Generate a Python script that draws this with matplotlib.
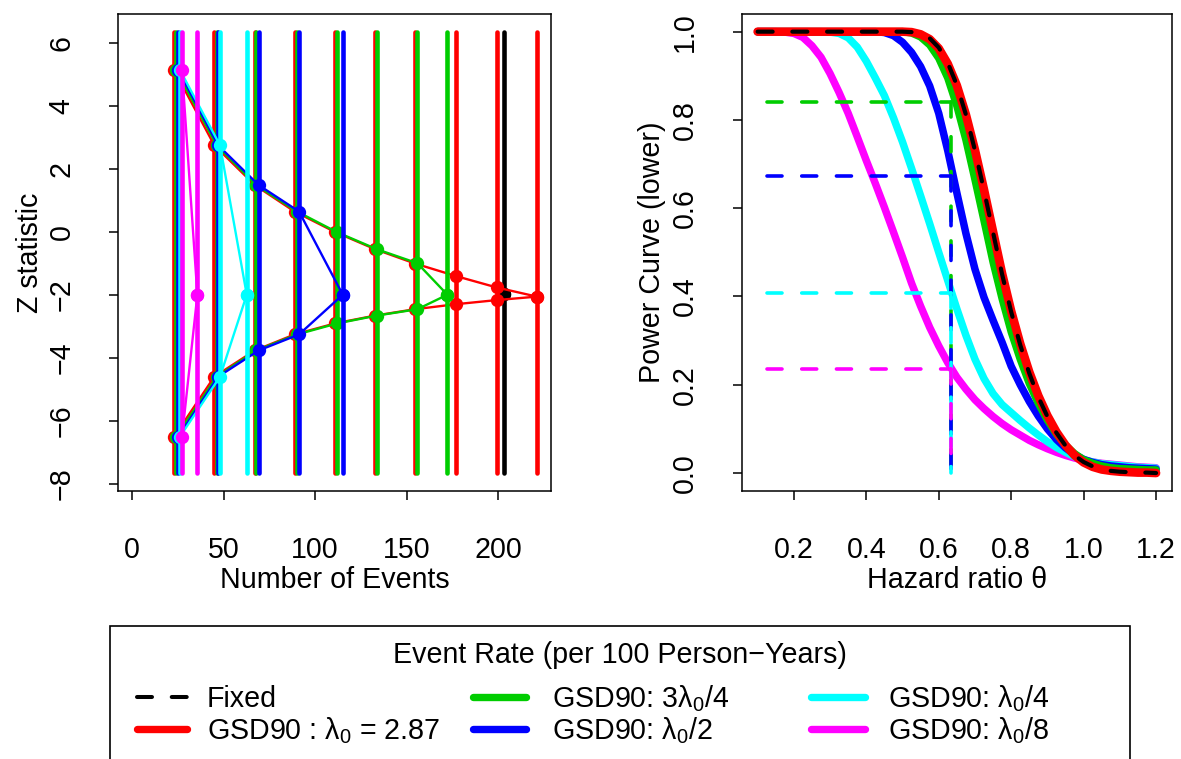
import matplotlib
matplotlib.use("Agg")
import matplotlib.pyplot as plt
from matplotlib.lines import Line2D
from matplotlib.patches import Rectangle

plt.rcParams['font.family'] = ['Liberation Sans', 'DejaVu Sans']
plt.rcParams['mathtext.fontset'] = 'custom'
plt.rcParams['mathtext.rm'] = 'Liberation Sans'
plt.rcParams['mathtext.it'] = 'Liberation Sans:italic'
plt.rcParams['lines.scale_dashes'] = False

# ---------------- data: left panel (boundaries) ----------------
fixed_events = [203.0]
fixed_z = [-1.96]

red_events = [22.8, 44.9, 67.0, 88.8, 110.9, 133.0, 154.6, 177.1, 199.3, 221.2]
red_upper = [5.15, 2.75, 1.49, 0.65, 0.00, -0.55, -1.00, -1.40, -1.76, -2.05]
red_lower = [-6.50, -4.59, -3.76, -3.25, -2.90, -2.65, -2.45, -2.29, -2.16, -2.05]

green_events = [23.9, 46.2, 67.7, 90.1, 112.1, 133.9, 155.9, 172.3]
green_upper = [5.15, 2.75, 1.49, 0.65, -0.01, -0.55, -0.99, -1.99]
green_lower = [-6.50, -4.59, -3.76, -3.25, -2.90, -2.65, -2.45, -1.99]

blue_events = [25.1, 47.0, 69.1, 91.2, 115.1]
blue_upper = [5.15, 2.75, 1.49, 0.65, -1.99]
blue_lower = [-6.50, -4.59, -3.76, -3.25, -1.99]

cyan_events = [26.0, 48.0, 62.6]
cyan_upper = [5.15, 2.75, -1.99]
cyan_lower = [-6.50, -4.59, -1.99]

magenta_events = [27.2, 35.6]
magenta_upper = [5.15, -1.99]
magenta_lower = [-6.50, -1.99]

z_span = [-7.65, 6.36]

# ---------------- data: right panel (power curves) ----------------
theta = [0.100, 0.125, 0.150, 0.175, 0.200, 0.225, 0.250, 0.275, 0.300, 0.325,
         0.350, 0.375, 0.400, 0.425, 0.450, 0.475, 0.500, 0.525, 0.550, 0.575,
         0.600, 0.625, 0.650, 0.675, 0.700, 0.725, 0.750, 0.775, 0.800, 0.825,
         0.850, 0.875, 0.900, 0.925, 0.950, 0.975, 1.000, 1.025, 1.050, 1.075,
         1.100, 1.125, 1.150, 1.175, 1.200]

power_magenta = [1.000, 1.000, 1.000, 0.999, 0.996, 0.987, 0.968, 0.942, 0.905, 0.862,
                 0.815, 0.762, 0.708, 0.656, 0.602, 0.546, 0.489, 0.430, 0.378, 0.330,
                 0.288, 0.250, 0.217, 0.190, 0.166, 0.146, 0.128, 0.112, 0.098, 0.086,
                 0.074, 0.064, 0.055, 0.047, 0.040, 0.034, 0.029, 0.025, 0.022, 0.020,
                 0.018, 0.016, 0.014, 0.013, 0.012]
power_cyan = [1.000, 1.000, 1.000, 1.000, 1.000, 1.000, 1.000, 1.000, 0.999, 0.996,
              0.986, 0.965, 0.933, 0.895, 0.855, 0.805, 0.750, 0.690, 0.628, 0.565,
              0.500, 0.436, 0.372, 0.312, 0.258, 0.214, 0.180, 0.155, 0.137, 0.119,
              0.102, 0.086, 0.071, 0.058, 0.047, 0.037, 0.030, 0.025, 0.021, 0.019,
              0.017, 0.015, 0.013, 0.012, 0.011]
power_blue = [1.000, 1.000, 1.000, 1.000, 1.000, 1.000, 1.000, 1.000, 1.000, 1.000,
              1.000, 1.000, 1.000, 1.000, 0.998, 0.991, 0.976, 0.953, 0.921, 0.877,
              0.815, 0.730, 0.635, 0.543, 0.462, 0.398, 0.346, 0.296, 0.242, 0.200,
              0.162, 0.129, 0.100, 0.076, 0.057, 0.042, 0.031, 0.024, 0.019, 0.016,
              0.014, 0.012, 0.011, 0.010, 0.009]
power_green = [1.000, 1.000, 1.000, 1.000, 1.000, 1.000, 1.000, 1.000, 1.000, 1.000,
               1.000, 1.000, 1.000, 1.000, 1.000, 1.000, 1.000, 0.997, 0.988, 0.970,
               0.940, 0.895, 0.832, 0.755, 0.665, 0.572, 0.478, 0.395, 0.320, 0.258,
               0.203, 0.158, 0.120, 0.088, 0.063, 0.044, 0.030, 0.022, 0.016, 0.012,
               0.010, 0.009, 0.008, 0.007, 0.007]
power_red = [1.000, 1.000, 1.000, 1.000, 1.000, 1.000, 1.000, 1.000, 1.000, 1.000,
             1.000, 1.000, 1.000, 1.000, 1.000, 1.000, 1.000, 0.999, 0.994, 0.983,
             0.962, 0.927, 0.878, 0.812, 0.732, 0.642, 0.547, 0.452, 0.367, 0.293,
             0.229, 0.175, 0.130, 0.093, 0.063, 0.040, 0.024, 0.014, 0.008, 0.005,
             0.003, 0.002, 0.001, 0.001, 0.000]
power_fixed = [1.000, 1.000, 1.000, 1.000, 1.000, 1.000, 1.000, 1.000, 1.000, 1.000,
               1.000, 1.000, 1.000, 1.000, 1.000, 1.000, 1.000, 0.999, 0.995, 0.985,
               0.964, 0.929, 0.879, 0.812, 0.731, 0.640, 0.545, 0.450, 0.365, 0.290,
               0.226, 0.172, 0.128, 0.091, 0.062, 0.040, 0.025, 0.015, 0.009, 0.005,
               0.003, 0.002, 0.001, 0.001, 0.000]

theta_alt = 0.635
ref_x0 = 0.125
ref_power = {'green': 0.840, 'blue': 0.672, 'cyan': 0.408, 'magenta': 0.235}

legend_title = "Event Rate (per 100 Person\u2212Years)"
legend_labels = ["Fixed", "GSD90 : \u03bb$_0$ = 2.87", "GSD90: 3\u03bb$_0$/4",
                 "GSD90: \u03bb$_0$/2", "GSD90: \u03bb$_0$/4", "GSD90: \u03bb$_0$/8"]

# ---------------- styling ----------------
COL = {'black': '#000000', 'red': '#FF0000', 'green': '#00CD00',
       'blue': '#0000FF', 'cyan': '#00FFFF', 'magenta': '#FF00FF'}
FS = 20.6
W, H = 1181, 759
DASH = (0, (10.8, 14.2))

fig = plt.figure(figsize=(W / 100, H / 100), dpi=100)


def rect(l, t, r, b):
    return [l / W, 1 - b / H, (r - l) / W, (b - t) / H]


ax1 = fig.add_axes(rect(118, 14, 550.7, 490.7))
ax2 = fig.add_axes(rect(741.7, 14, 1172, 490.7))

# ---------------- left panel ----------------
designs = [
    ('black', fixed_events, fixed_z, fixed_z),
    ('red', red_events, red_upper, red_lower),
    ('green', green_events, green_upper, green_lower),
    ('blue', blue_events, blue_upper, blue_lower),
    ('cyan', cyan_events, cyan_upper, cyan_lower),
    ('magenta', magenta_events, magenta_upper, magenta_lower),
]
for name, ev, up, lo in designs:
    c = COL[name]
    ax1.vlines(ev, z_span[0], z_span[1], colors=c, linewidth=3.3, capstyle='round')
    xs = list(ev) + list(ev[::-1])
    ys = list(up) + list(lo[::-1])
    ax1.plot(xs, ys, color=c, linewidth=1.7, marker='o', markersize=9.6,
             markeredgewidth=0, solid_joinstyle='round')

ax1.set_xlim(-7.8, 228.8)
ax1.set_ylim(-8.21, 6.92)
ax1.set_xticks([0, 50, 100, 150, 200])
ax1.set_yticks([-8, -6, -4, -2, 0, 2, 4, 6])
ax1.set_yticklabels(['\u22128', '\u22126', '\u22124', '\u22122', '0', '2', '4', '6'])
ax1.set_xlabel("Number of Events", fontsize=FS)
ax1.set_ylabel("Z statistic", fontsize=FS)

# ---------------- right panel ----------------
curves = [('magenta', power_magenta), ('cyan', power_cyan), ('blue', power_blue),
          ('green', power_green)]
for name, pw in curves:
    ax2.plot(theta, pw, color=COL[name], linewidth=5.4, solid_capstyle='round',
             solid_joinstyle='round')
ax2.plot(theta, power_red, color=COL['red'], linewidth=6.2, solid_capstyle='round',
         solid_joinstyle='round')
ax2.plot(theta, power_fixed, color=COL['black'], linewidth=3.0, linestyle=DASH,
         dash_capstyle='round')

for name in ['green', 'blue', 'cyan', 'magenta']:
    p = ref_power[name]
    ax2.plot([ref_x0, theta_alt], [p, p], color=COL[name], linewidth=2.6,
             linestyle=DASH, dash_capstyle='round')
    ax2.plot([theta_alt, theta_alt], [p, 0], color=COL[name], linewidth=2.6,
             linestyle=DASH, dash_capstyle='round')

ax2.set_xlim(0.056, 1.244)
ax2.set_ylim(-0.04, 1.04)
ax2.set_xticks([0.2, 0.4, 0.6, 0.8, 1.0, 1.2])
ax2.set_yticks([0.0, 0.2, 0.4, 0.6, 0.8, 1.0])
ax2.set_xticklabels(['0.2', '0.4', '0.6', '0.8', '1.0', '1.2'])
ax2.set_yticklabels(['0.0', '0.2', '0.4', '0.6', '0.8', '1.0'])
ax2.set_xlabel("Hazard ratio \u03b8", fontsize=FS)
ax2.set_ylabel("Power Curve (lower)", fontsize=FS)

for ax in (ax1, ax2):
    for s in ax.spines.values():
        s.set_linewidth(1.1)
    ax.tick_params(axis='x', direction='out', length=6.5, width=1.1, labelsize=FS, pad=26)
    ax.tick_params(axis='y', direction='out', length=6.5, width=1.1, labelsize=FS, pad=24)
    for lab in ax.get_yticklabels():
        lab.set_rotation(90)
        lab.set_va('center')
    ax.xaxis.label.set_va('center')
    ax.yaxis.label.set_va('center')

ax1.xaxis.set_label_coords(0.5, (490.7 - 580) / 476.7)
ax1.yaxis.set_label_coords((30 - 118) / 432.7, 0.5)
ax2.xaxis.set_label_coords(0.5, (490.7 - 580) / 476.7)
ax2.yaxis.set_label_coords((652 - 741.7) / 430.3, 0.5)

# ---------------- legend (drawn in figure pixels) ----------------
def fx(x):
    return x / W


def fy(y):
    return 1 - y / H


fig.add_artist(Rectangle((fx(110), fy(800)), fx(1130) - fx(110), fy(626) - fy(800),
                         transform=fig.transFigure, fill=False, edgecolor='black',
                         linewidth=1.2, clip_on=False))
fig.text(fx(620), fy(655), legend_title, fontsize=FS, ha='center', va='center')

entries = [('black', 137, 187, 207, 697), ('red', 137, 187, 207, 729),
           ('green', 473, 526, 552, 697), ('blue', 473, 526, 552, 729),
           ('cyan', 811, 865, 888, 697), ('magenta', 811, 865, 888, 729)]
for (name, x0, x1, xt, yy), lab in zip(entries, legend_labels):
    if name == 'black':
        fig.add_artist(Line2D([fx(x0), fx(x1)], [fy(yy), fy(yy)], transform=fig.transFigure,
                              color='black', linewidth=2.9, linestyle=DASH,
                              dash_capstyle='round'))
    else:
        fig.add_artist(Line2D([fx(x0), fx(x1)], [fy(yy), fy(yy)], transform=fig.transFigure,
                              color=COL[name], linewidth=5.3, solid_capstyle='round'))
    fig.text(fx(xt), fy(yy + 10), lab, fontsize=FS, ha='left', va='baseline')

fig.savefig("out.png", dpi=100)
